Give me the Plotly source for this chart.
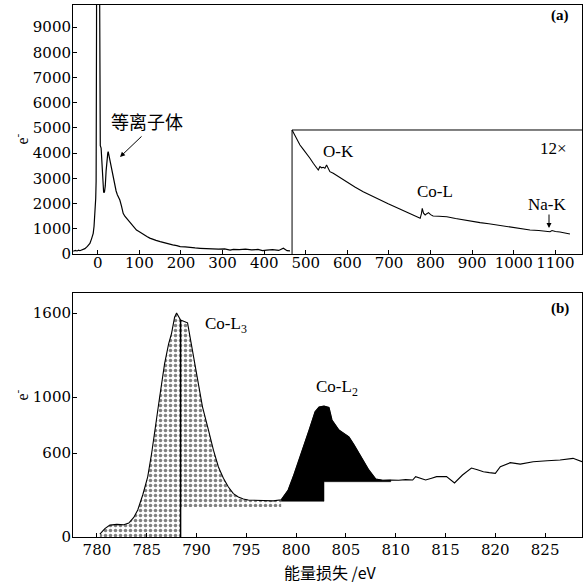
import plotly.graph_objects as go

# ---------------- data: panel (a) low-loss spectrum ----------------
main_ev = [-59, -54, -50, -46, -43, -39, -36, -31, -25, -19, -15, -11, -9, -7, -5, -4, -3, -1, 1, 3, 4, 5, 6,
           8, 10, 12, 14, 16, 18, 20, 22, 24, 25, 27, 29, 31, 33, 36, 38, 41, 44, 47, 50, 53, 57, 61, 65,
           69, 73, 78, 83, 88, 93, 98, 105, 112, 118, 125, 132, 140, 150, 160, 170, 180, 190, 198, 210,
           222, 234, 246, 260, 275, 290, 305, 318, 326, 340, 355, 370, 385, 396, 406, 420, 435, 446, 455, 462]
main_counts = [110, 140, 120, 150, 130, 160, 170, 210, 300, 420, 600, 820, 1100, 1480, 2200, 2900, 9000,
               40000, 40000, 30000, 12000, 4400, 4300, 4200, 3600, 2900, 2450, 2450, 2700, 3300, 3800, 4000,
               4060, 3900, 3700, 3550, 3400, 3100, 2900, 2670, 2500, 2350, 2250, 2140, 1900, 1615, 1500, 1420,
               1350, 1250, 1150, 1040, 950, 900, 820, 740, 690, 630, 580, 540, 490, 440, 400, 360, 330, 290,
               280, 250, 240, 226, 210, 220, 190, 200, 150, 185, 170, 190, 160, 180, 130, 150, 175, 140, 226,
               130, 120]

# 12x magnified part (inset)
inset_ev = [467, 476, 486, 494, 502, 510, 518, 524, 530, 534, 538, 542, 546, 550, 554, 558, 566, 580, 598,
            618, 638, 658, 678, 698, 718, 738, 758, 768, 775, 778, 780, 783, 787, 791, 795, 800, 806, 820,
            839, 860, 879, 900, 919, 940, 959, 980, 999, 1020, 1039, 1060, 1079, 1087, 1092, 1100, 1111,
            1122, 1135]
inset_counts = [4920, 4620, 4325, 4150, 3996, 3800, 3600, 3450, 3333, 3465, 3420, 3440, 3400, 3530, 3380,
                3266, 3200, 3050, 2870, 2660, 2470, 2300, 2140, 1990, 1840, 1700, 1550, 1480, 1415, 1600,
                1810, 1620, 1550, 1600, 1640, 1560, 1508, 1500, 1480, 1410, 1350, 1300, 1243, 1200, 1150,
                1100, 1045, 1000, 952, 930, 913, 880, 930, 890, 873, 840, 794]
inset_box_top = 4920
inset_box_left = 467

# ---------------- data: panel (b) Co-L edge ----------------
b_ev = [780.3, 780.8, 781.3, 782.0, 782.7, 783.2, 783.7, 784.1, 784.6, 785.1, 785.5, 785.8, 786.3, 786.8,
        787.2, 787.5, 787.8, 788.0, 788.4, 789.1, 789.6, 790.1, 790.6, 791.2, 791.7, 792.2, 792.7, 793.2,
        793.7, 794.2, 794.7, 795.2, 796.0, 796.9, 797.7, 798.5, 799.2, 799.7, 800.3, 800.8, 801.3, 801.9,
        802.3, 802.8, 803.3, 803.6, 804.3, 804.8, 805.3, 805.8, 806.3, 806.8, 807.3, 808.0, 808.7, 809.5,
        810.3, 811.0, 811.7, 812.0, 812.5, 813.0, 813.6, 814.1, 815.1, 815.9, 816.7, 817.6, 818.2, 818.8,
        819.4, 820.0, 820.5, 821.5, 822.5, 823.8, 825.2, 826.5, 827.8, 828.7]
b_counts = [20, 60, 85, 90, 88, 100, 140, 193, 300, 430, 600, 764, 1000, 1240, 1380, 1457, 1570, 1600,
            1550, 1530, 1330, 1120, 930, 764, 620, 500, 420, 357, 310, 286, 272, 264, 262, 264, 258, 266,
            336, 430, 550, 660, 764, 895, 928, 935, 925, 836, 764, 740, 716, 660, 600, 540, 479, 414, 405,
            407, 405, 410, 407, 431, 420, 407, 420, 431, 431, 386, 443, 493, 480, 466, 460, 455, 502, 531,
            521, 538, 545, 550, 562, 538]
L3_split = 788.4      # vertical line inside the Co-L3 area
L3_end = 798.5
L3_right_base = 214
L2_step = 802.8
L2_end = 809.5
L2_base_low = 255
L2_base_high = 395

a_yticks = [0, 1000, 2000, 3000, 4000, 5000, 6000, 7000, 8000, 9000]
a_xticks = [0, 100, 200, 300, 400, 500, 600, 700, 800, 900, 1000, 1100]
b_yticks = [0, 600, 1000, 1600]
b_xticks = [780, 785, 790, 795, 800, 805, 810, 815, 820, 825]

# ---------------- figure ----------------
W, H = 583, 584
ML, MR, MT, MB = 73, 1, 5, 47
PW, PH = W - ML - MR, H - MT - MB


def px(x):
    return (x - ML) / PW


def py(y):
    return (H - MB - y) / PH


fig = go.Figure()

# panel (a)
fig.add_trace(go.Scatter(x=main_ev, y=main_counts, mode="lines",
                         line=dict(color="black", width=1.2), xaxis="x", yaxis="y"))
fig.add_trace(go.Scatter(x=inset_ev, y=inset_counts, mode="lines",
                         line=dict(color="black", width=1.1), xaxis="x", yaxis="y"))

# panel (b) fills
def seg(x0, x1):
    xs = [x for x in b_ev if x0 <= x <= x1]
    ys = [y for x, y in zip(b_ev, b_counts) if x0 <= x <= x1]
    return xs, ys

pat = dict(shape=".", size=5, solidity=0.4, fgcolor="black", bgcolor="white")
xs, ys = seg(b_ev[0], L3_split)
fig.add_trace(go.Scatter(x=xs + [L3_split, xs[0]], y=ys + [0, 0], fill="toself", mode="lines",
                         line=dict(width=0), fillcolor="white", fillpattern=pat, xaxis="x2", yaxis="y2"))
xs, ys = seg(L3_split, L3_end)
fig.add_trace(go.Scatter(x=xs + [L3_end, L3_split], y=ys + [L3_right_base, L3_right_base], fill="toself",
                         mode="lines", line=dict(width=0), fillcolor="white", fillpattern=pat,
                         xaxis="x2", yaxis="y2"))
xs, ys = seg(L3_end, L2_end)
fig.add_trace(go.Scatter(x=xs + [L2_end, L2_step, L2_step, L3_end],
                         y=ys + [L2_base_high, L2_base_high, L2_base_low, L2_base_low],
                         fill="toself", mode="lines", line=dict(width=0.5, color="black"),
                         fillcolor="black", xaxis="x2", yaxis="y2"))
# vertical split line
split_y = [y for x, y in zip(b_ev, b_counts) if x == L3_split][0]
fig.add_trace(go.Scatter(x=[L3_split, L3_split], y=[0, split_y], mode="lines",
                         line=dict(color="black", width=1.5), xaxis="x2", yaxis="y2"))
fig.add_trace(go.Scatter(x=b_ev, y=b_counts, mode="lines",
                         line=dict(color="black", width=1.1), xaxis="x2", yaxis="y2"))

tickfont = dict(family="DejaVu Serif", size=15, color="black")
axcommon = dict(showline=True, mirror=True, linecolor="black", linewidth=1, ticks="inside",
                ticklen=4, tickcolor="black", showgrid=False, zeroline=False, tickfont=tickfont)

fig.update_layout(
    width=W, height=H, margin=dict(l=ML, r=MR, t=MT, b=MB),
    paper_bgcolor="white", plot_bgcolor="white", showlegend=False,
    xaxis=dict(domain=[0, 1], anchor="y", range=[-59.6, 1164], tickvals=a_xticks,
               ticklabelstandoff=-5, **axcommon),
    yaxis=dict(domain=[0.532, 1], anchor="x", range=[0, 9880], tickvals=a_yticks,
               ticklabelstandoff=-2, **axcommon),
    xaxis2=dict(domain=[0, 1], anchor="y2", range=[777.6, 828.7], tickvals=b_xticks,
                ticklabelstandoff=-1, **axcommon),
    yaxis2=dict(domain=[0, 0.4586], anchor="x2", range=[0, 1743], tickvals=b_yticks,
                ticklabelstandoff=-2, **axcommon),
)

# inset box
fig.add_shape(type="line", xref="x", yref="y", x0=inset_box_left, x1=inset_box_left, y0=0,
              y1=inset_box_top, line=dict(color="black", width=1))
fig.add_shape(type="line", xref="x", yref="y", x0=inset_box_left, x1=1164, y0=inset_box_top,
              y1=inset_box_top, line=dict(color="black", width=1))

serif = "Liberation Serif"
cjk = "Noto Sans CJK SC"


def txt(x, y, t, size=16, family=serif):
    fig.add_annotation(x=px(x), y=py(y), xref="paper", yref="paper", text=t, showarrow=False,
                       font=dict(family=family, size=size, color="black"), xanchor="center",
                       yanchor="middle")


txt(560, 16, "<b>(a)</b>", 15)
txt(560, 308, "<b>(b)</b>", 15)
txt(147, 121, "等离子体", 18, cjk)
txt(338, 151, "O-K", 17)
txt(553, 148, "12×", 17)
txt(435, 192, "Co-L", 17)
txt(547, 204, "Na-K", 17)
txt(226, 325, "Co-L<sub>3</sub>", 17)
txt(337, 388, "Co-L<sub>2</sub>", 17)
txt(330, 572, "能量损失 /eV", 16, cjk)
for yy in (132, 403):
    fig.add_annotation(x=px(9), y=py(yy), xref="paper", yref="paper", text="e<sup>-</sup>",
                       showarrow=False, textangle=-90,
                       font=dict(family=serif, size=16, color="black"))

# arrows (tail offsets in pixels)
fig.add_annotation(x=px(120), y=py(157), ax=23, ay=-22, xref="paper", yref="paper",
                   axref="pixel", ayref="pixel", text="", showarrow=True, arrowhead=2,
                   arrowsize=1, arrowwidth=1, arrowcolor="black")
fig.add_annotation(x=px(549), y=py(228), ax=0, ay=-15, xref="paper", yref="paper",
                   axref="pixel", ayref="pixel", text="", showarrow=True, arrowhead=2,
                   arrowsize=1, arrowwidth=1, arrowcolor="black")

fig.write_html("out.html", config={"displayModeBar": False},
               post_script="document.body.style.margin='0px';document.body.style.overflow='hidden';")
